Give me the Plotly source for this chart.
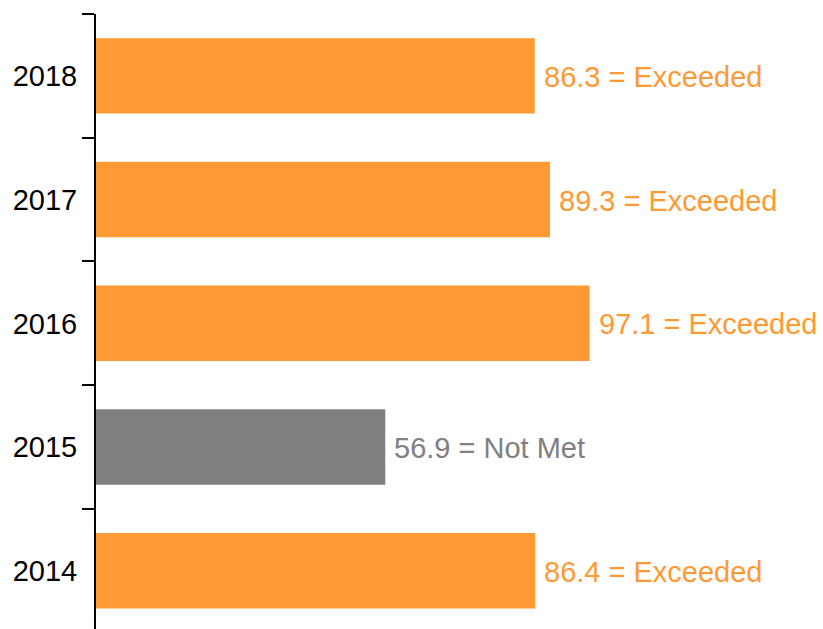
import plotly.graph_objects as go

years = ["2014", "2015", "2016", "2017", "2018"]
values = [86.4, 56.9, 97.1, 89.3, 86.3]
ratings = ["Exceeded", "Not Met", "Exceeded", "Exceeded", "Exceeded"]
rating_colors = {"Exceeded": "#FF9933", "Not Met": "#808080"}

colors = [rating_colors[r] for r in ratings]

fig = go.Figure()
fig.add_trace(go.Bar(
    x=values, y=years, orientation="h",
    marker=dict(color=colors, line=dict(width=0)),
    hoverinfo="skip",
))

for i, (v, r, c) in enumerate(zip(values, ratings, colors)):
    fig.add_annotation(
        x=v, y=i, xref="x", yref="y", text=f"{v} = {r}", showarrow=False,
        xanchor="left", yanchor="middle", xshift=7, yshift=-1,
        font=dict(family="Liberation Sans, Arial, sans-serif", size=29, color=c),
    )

fig.update_layout(
    width=823, height=629,
    margin=dict(l=96, r=0, t=14, b=0, pad=0),
    paper_bgcolor="white", plot_bgcolor="white",
    bargap=0.39,
    showlegend=False,
    font=dict(family="Liberation Sans, Arial, sans-serif", size=29, color="black"),
)
fig.update_xaxes(range=[0, 143], showticklabels=False, ticks="", showline=False,
                 showgrid=False, zeroline=False)
fig.update_yaxes(
    type="category", categoryorder="array", categoryarray=years,
    range=[-0.47, 4.5],
    showline=True, linecolor="black", linewidth=2,
    ticks="outside", tickson="boundaries", ticklen=12, tickwidth=2, tickcolor="black",
    ticklabelstandoff=11,
    showgrid=False, zeroline=False,
    tickfont=dict(size=29, color="black"),
)

fig.write_html("out.html", config={"displayModeBar": False},
               post_script="document.body.style.margin='0';")
